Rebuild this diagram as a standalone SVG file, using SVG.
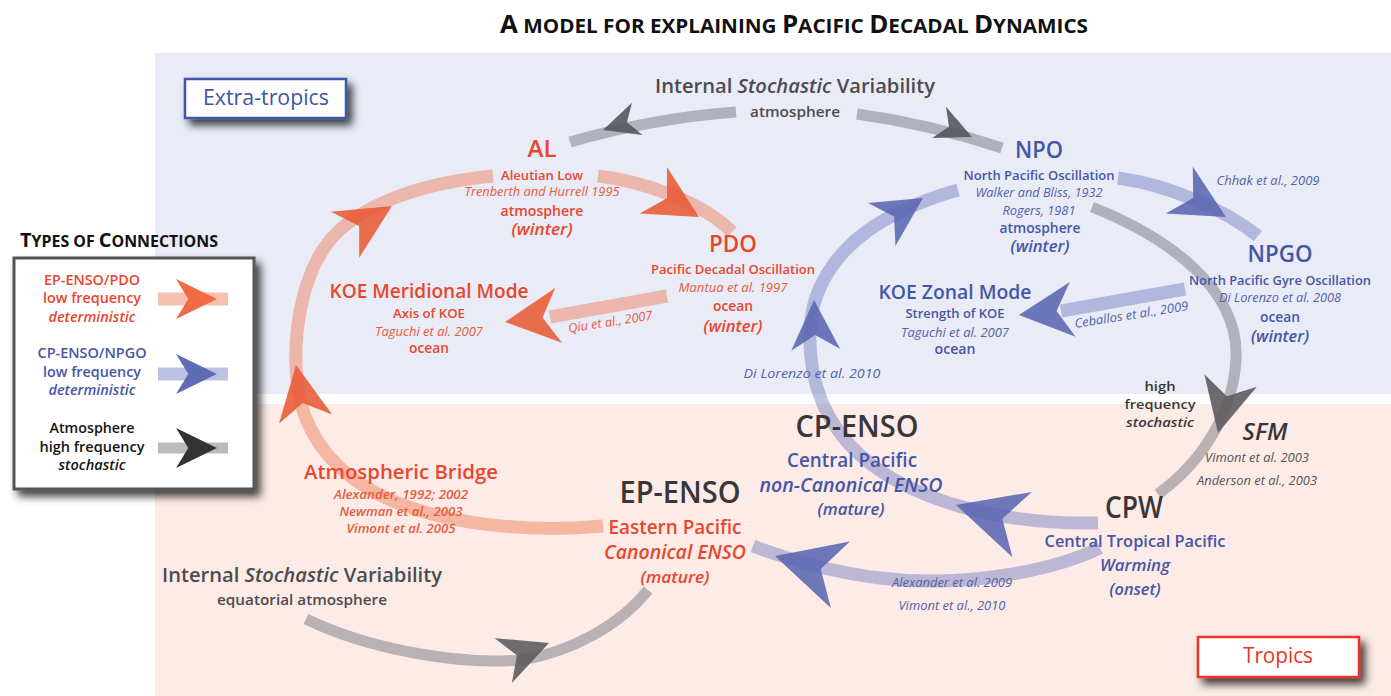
<svg xmlns="http://www.w3.org/2000/svg" xmlns:xlink="http://www.w3.org/1999/xlink" width="1391" height="696" viewBox="0 0 1391 696">
<defs>
<style>
text{font-family:"Open Sans","Liberation Sans",sans-serif;text-anchor:middle}
.b{font-weight:600}
.i{font-style:italic}
.red{fill:#e8472e}.blue{fill:#4656a6}.dk{fill:#3a3637}.gr{fill:#4b4b50}.blk{fill:#141414}
.cr{fill:#e85a3c}.cb{fill:#5261ab}.cg{fill:#555558}
.s24{font-size:24px}.s31{font-size:31px}.s20{font-size:20px}.s19{font-size:19px}.s17{font-size:17px}.s15{font-size:14.5px}.s14{font-size:13px}.s13{font-size:12.5px}
.bandR{fill:none;stroke:#ee7550;stroke-opacity:.45;stroke-width:13}
.bandB{fill:none;stroke:#6e78be;stroke-opacity:.45;stroke-width:13}
.bandG{fill:none;stroke:#82828a;stroke-opacity:.55;stroke-width:11}
.hR{fill:#e85a36;fill-opacity:.88}.hB{fill:#5a66b2;fill-opacity:.88}.hG{fill:#55575e;fill-opacity:.9}.hG2{fill:#5f5c5f;fill-opacity:.9}
.lR{fill:#f06a45}.lB{fill:#5e6bb5}.lK{fill:#333}
</style>
<path id="hd" d="M0,0 L-1,-0.5 L-0.7,0 L-1,0.5 Z"/>
<filter id="sh" x="-20%" y="-20%" width="150%" height="160%">
<feDropShadow dx="5" dy="6" stdDeviation="4" flood-color="#000" flood-opacity="0.75"/>
</filter>
</defs>

<rect x="0" y="0" width="1391" height="696" fill="#ffffff"/>
<rect id="panel-extratropics" x="155" y="53" width="1236" height="341" fill="#e9ebf6"/>
<rect id="panel-tropics" x="155" y="404" width="1236" height="292" fill="#fcebe6"/>

<text x="794" y="33" textLength="588" lengthAdjust="spacingAndGlyphs" font-weight="700" font-size="20" fill="#111"><tspan font-size="25">A</tspan> MODEL FOR EXPLAINING <tspan font-size="25">P</tspan>ACIFIC <tspan font-size="25">D</tspan>ECADAL <tspan font-size="25">D</tspan>YNAMICS</text>

<g id="label-extratropics">
<rect x="185" y="79" width="161" height="39" fill="#fff" stroke="#3f56a6" stroke-width="2.5" filter="url(#sh)"/>
<text x="266" y="105" font-size="21" fill="#3d55a5" textLength="126" lengthAdjust="spacingAndGlyphs">Extra-tropics</text>
</g>
<g id="label-tropics">
<rect x="1198" y="637" width="161" height="40" fill="#fff" stroke="#e8352a" stroke-width="2.5" filter="url(#sh)"/>
<text x="1278" y="663" font-size="22" fill="#e8352a" textLength="70" lengthAdjust="spacingAndGlyphs">Tropics</text>
</g>

<g id="legend">
<text x="119" y="247" textLength="198" lengthAdjust="spacingAndGlyphs" font-weight="700" font-size="16" fill="#111"><tspan font-size="20">T</tspan>YPES OF <tspan font-size="20">C</tspan>ONNECTIONS</text>
<rect x="14" y="258" width="240" height="231" fill="#fff" stroke="#555" stroke-width="3" filter="url(#sh)"/>
<text x="92" y="285" class="b s15 red" textLength="96" lengthAdjust="spacingAndGlyphs">EP-ENSO/PDO</text>
<text x="92" y="303" class="b s15 red" textLength="98" lengthAdjust="spacingAndGlyphs">low frequency</text>
<text x="92" y="322" class="b i s15 red" textLength="87" lengthAdjust="spacingAndGlyphs">deterministic</text>
<text x="92" y="358" class="b s15 blue" textLength="109" lengthAdjust="spacingAndGlyphs">CP-ENSO/NPGO</text>
<text x="92" y="377" class="b s15 blue" textLength="98" lengthAdjust="spacingAndGlyphs">low frequency</text>
<text x="92" y="395" class="b i s15 blue" textLength="87" lengthAdjust="spacingAndGlyphs">deterministic</text>
<text x="92" y="433" class="b s15 blk" textLength="85" lengthAdjust="spacingAndGlyphs">Atmosphere</text>
<text x="92" y="452" class="b s15 blk" textLength="105" lengthAdjust="spacingAndGlyphs">high frequency</text>
<text x="92" y="470" class="b i s15 blk" textLength="67" lengthAdjust="spacingAndGlyphs">stochastic</text>
<line x1="158" y1="299" x2="228" y2="299" class="bandR" stroke-width="10"/>
<use xlink:href="#hd" class="lR" transform="translate(217,299) scale(41,40)"/>
<line x1="158" y1="374" x2="228" y2="374" class="bandB" stroke-width="10"/>
<use xlink:href="#hd" class="lB" transform="translate(217,374) scale(41,40)"/>
<line x1="158" y1="448" x2="228" y2="448" class="bandG" stroke-width="10"/>
<use xlink:href="#hd" class="lK" transform="translate(217,448) scale(41,40)"/>
</g>

<g id="connectors">
<path class="bandR" d="M603,526 C530,533 440,525 380,495 C335,472 310,440 300,400 C290,350 298,280 330,240 C360,205 420,183 493,176"/>
<path class="bandR" d="M598,176 C640,181 700,200 732,232"/>
<path class="bandR" d="M667,296 L550,317"/>
<use xlink:href="#hd" class="hR" transform="translate(296,365) rotate(-100) scale(55,54)"/>
<use xlink:href="#hd" class="hR" transform="translate(392,206) rotate(-31.5) scale(55,54)"/>
<use xlink:href="#hd" class="hR" transform="translate(699,217) rotate(30.4) scale(53,54)"/>
<use xlink:href="#hd" class="hR" transform="translate(505,322) rotate(173) scale(54,55)"/>
<path class="bandB" d="M1098,523 C1000,525 910,500 860,455 C825,423 808,380 810,330 C812,285 840,240 900,212 C920,202 940,195 958,190"/>
<path class="bandB" d="M1118,178 C1170,185 1225,210 1258,236"/>
<path class="bandB" d="M1185,289 L1061,311"/>
<path class="bandB" d="M1100,548 C1050,572 960,588 880,578 C830,572 790,560 753,546"/>
<use xlink:href="#hd" class="hB" transform="translate(814,300) rotate(-92) scale(50,49)"/>
<use xlink:href="#hd" class="hB" transform="translate(923,198) rotate(-32.6) scale(49,51)"/>
<use xlink:href="#hd" class="hB" transform="translate(1226,217) rotate(30) scale(54,54)"/>
<use xlink:href="#hd" class="hB" transform="translate(1019,315) rotate(174) scale(54,55)"/>
<use xlink:href="#hd" class="hB" transform="translate(956,505) rotate(196.5) scale(69,68)"/>
<use xlink:href="#hd" class="hB" transform="translate(775,556) rotate(196) scale(68,69)"/>
<path class="bandG" d="M570,142 Q653.6,118 736,112"/>
<path class="bandG" d="M857,114 Q930,124 1002,148"/>
<path class="bandG" d="M1092,207 C1170,238 1240,290 1236,360 C1233,410 1205,460 1158,494"/>
<path class="bandG" d="M306,619 C370,650 460,665 520,660 C570,653 620,625 648,590"/>
<use xlink:href="#hd" class="hG" transform="translate(603,130) rotate(162) scale(36,34)"/>
<use xlink:href="#hd" class="hG" transform="translate(972,137) rotate(24) scale(36,34)"/>
<use xlink:href="#hd" class="hG2" transform="translate(1218,433) rotate(103.5) scale(54,54)"/>
<use xlink:href="#hd" class="hG2" transform="translate(549,643) rotate(-21) scale(49,48)"/>
<text x="611" y="326" class="i s13 cr" transform="rotate(-9 611 326)" textLength="85" lengthAdjust="spacingAndGlyphs">Qiu et al., 2007</text>
<text x="1132" y="319" class="i s13 cb" transform="rotate(-9 1132 319)" textLength="115" lengthAdjust="spacingAndGlyphs">Ceballos et al., 2009</text>
<text x="1268" y="185" class="i s13 cb" textLength="103" lengthAdjust="spacingAndGlyphs">Chhak et al., 2009</text>
<text x="812" y="378" class="i s14 cb" textLength="137" lengthAdjust="spacingAndGlyphs">Di Lorenzo et al. 2010</text>
<text x="952" y="587" class="i s13 cb" textLength="120" lengthAdjust="spacingAndGlyphs">Alexander et al. 2009</text>
<text x="952" y="610" class="i s13 cb" textLength="107" lengthAdjust="spacingAndGlyphs">Vimont et al., 2010</text>
<text x="1160" y="391" class="b s14 dk" textLength="31" lengthAdjust="spacingAndGlyphs">high</text>
<text x="1160" y="409" class="b s14 dk" textLength="71" lengthAdjust="spacingAndGlyphs">frequency</text>
<text x="1160" y="427" class="b i s14 dk" textLength="68" lengthAdjust="spacingAndGlyphs">stochastic</text>
<text x="1257" y="462" class="i s13 cg" textLength="104" lengthAdjust="spacingAndGlyphs">Vimont et al. 2003</text>
<text x="1257" y="485" class="i s13 cg" textLength="120" lengthAdjust="spacingAndGlyphs">Anderson et al., 2003</text>
</g>

<g id="node-internal-atm">
<text x="795" y="93" class="b s20 gr" textLength="280" lengthAdjust="spacingAndGlyphs">Internal <tspan font-style="italic">Stochastic</tspan> Variability</text>
<text x="795" y="117" class="b s15 gr" textLength="90" lengthAdjust="spacingAndGlyphs">atmosphere</text>
</g>

<g id="node-al">
<text x="542" y="157" class="b s24 red" textLength="29" lengthAdjust="spacingAndGlyphs">AL</text>
<text x="542" y="180" class="b s14 red" textLength="82" lengthAdjust="spacingAndGlyphs">Aleutian Low</text>
<text x="542" y="196" class="i s14 cr" textLength="155" lengthAdjust="spacingAndGlyphs">Trenberth and Hurrell 1995</text>
<text x="542" y="216" class="b s15 red" textLength="83" lengthAdjust="spacingAndGlyphs">atmosphere</text>
<text x="542" y="235" class="b i s17 red" textLength="61" lengthAdjust="spacingAndGlyphs">(winter)</text>
</g>

<g id="node-pdo">
<text x="733" y="252" class="b s24 red" textLength="48" lengthAdjust="spacingAndGlyphs">PDO</text>
<text x="733" y="274" class="b s14 red" textLength="164" lengthAdjust="spacingAndGlyphs">Pacific Decadal Oscillation</text>
<text x="733" y="292" class="i s14 cr" textLength="109" lengthAdjust="spacingAndGlyphs">Mantua et al. 1997</text>
<text x="733" y="311" class="b s15 red" textLength="40" lengthAdjust="spacingAndGlyphs">ocean</text>
<text x="733" y="332" class="b i s17 red" textLength="59" lengthAdjust="spacingAndGlyphs">(winter)</text>
</g>

<g id="node-koe-meridional">
<text x="429" y="298" class="b s20 red" textLength="199" lengthAdjust="spacingAndGlyphs">KOE Meridional Mode</text>
<text x="429" y="318" class="b s14 red" textLength="72" lengthAdjust="spacingAndGlyphs">Axis of KOE</text>
<text x="429" y="336" class="i s14 cr" textLength="108" lengthAdjust="spacingAndGlyphs">Taguchi et al. 2007</text>
<text x="429" y="353" class="b s15 red" textLength="40" lengthAdjust="spacingAndGlyphs">ocean</text>
</g>

<g id="node-npo">
<text x="1039" y="158" class="b s24 blue" textLength="48" lengthAdjust="spacingAndGlyphs">NPO</text>
<text x="1039" y="180" class="b s14 blue" textLength="151" lengthAdjust="spacingAndGlyphs">North Pacific Oscillation</text>
<text x="1039" y="197" class="i s14 cb" textLength="127" lengthAdjust="spacingAndGlyphs">Walker and Bliss, 1932</text>
<text x="1039" y="215" class="i s14 cb" textLength="73" lengthAdjust="spacingAndGlyphs">Rogers, 1981</text>
<text x="1040" y="233" class="b s15 blue" textLength="81" lengthAdjust="spacingAndGlyphs">atmosphere</text>
<text x="1040" y="252" class="b i s17 blue" textLength="59" lengthAdjust="spacingAndGlyphs">(winter)</text>
</g>

<g id="node-npgo">
<text x="1280" y="262" class="b s24 blue" textLength="65" lengthAdjust="spacingAndGlyphs">NPGO</text>
<text x="1280" y="285" class="b s14 blue" textLength="182" lengthAdjust="spacingAndGlyphs">North Pacific Gyre Oscillation</text>
<text x="1280" y="302" class="i s14 cb" textLength="122" lengthAdjust="spacingAndGlyphs">Di Lorenzo et al. 2008</text>
<text x="1280" y="322" class="b s15 blue" textLength="40" lengthAdjust="spacingAndGlyphs">ocean</text>
<text x="1280" y="342" class="b i s17 blue" textLength="58" lengthAdjust="spacingAndGlyphs">(winter)</text>
</g>

<g id="node-koe-zonal">
<text x="955" y="299" class="b s20 blue" textLength="153" lengthAdjust="spacingAndGlyphs">KOE Zonal Mode</text>
<text x="955" y="318" class="b s14 blue" textLength="99" lengthAdjust="spacingAndGlyphs">Strength of KOE</text>
<text x="955" y="337" class="i s14 cb" textLength="108" lengthAdjust="spacingAndGlyphs">Taguchi et al. 2007</text>
<text x="955" y="354" class="b s15 blue" textLength="41" lengthAdjust="spacingAndGlyphs">ocean</text>
</g>

<g id="node-cp-enso">
<text x="857" y="437" class="b s31 dk" textLength="123" lengthAdjust="spacingAndGlyphs">CP-ENSO</text>
<text x="852" y="467" class="b s19 blue" textLength="130" lengthAdjust="spacingAndGlyphs">Central Pacific</text>
<text x="851" y="492" class="b i s19 blue" textLength="183" lengthAdjust="spacingAndGlyphs">non-Canonical ENSO</text>
<text x="851" y="515" class="b i s17 blue" textLength="67" lengthAdjust="spacingAndGlyphs">(mature)</text>
</g>

<g id="node-ep-enso">
<text x="680" y="503" class="b s31 dk" textLength="121" lengthAdjust="spacingAndGlyphs">EP-ENSO</text>
<text x="675" y="534" class="b s19 red" textLength="133" lengthAdjust="spacingAndGlyphs">Eastern Pacific</text>
<text x="675" y="559" class="b i s19 red" textLength="142" lengthAdjust="spacingAndGlyphs">Canonical ENSO</text>
<text x="675" y="583" class="b i s17 red" textLength="69" lengthAdjust="spacingAndGlyphs">(mature)</text>
</g>

<g id="node-cpw">
<text x="1134" y="518" class="b s31 dk" textLength="58" lengthAdjust="spacingAndGlyphs">CPW</text>
<text x="1135" y="547" class="b s17 blue" textLength="181" lengthAdjust="spacingAndGlyphs">Central Tropical Pacific</text>
<text x="1135" y="571" class="b i s17 blue" textLength="70" lengthAdjust="spacingAndGlyphs">Warming</text>
<text x="1135" y="595" class="b i s17 blue" textLength="51" lengthAdjust="spacingAndGlyphs">(onset)</text>
</g>

<g id="node-sfm">
<text x="1265" y="440" class="b i s24 dk" textLength="45" lengthAdjust="spacingAndGlyphs">SFM</text>
</g>

<g id="node-atm-bridge">
<text x="401" y="479" class="b s20 red" textLength="194" lengthAdjust="spacingAndGlyphs">Atmospheric Bridge</text>
<text x="401" y="499" class="b i s13 cr" textLength="134" lengthAdjust="spacingAndGlyphs">Alexander, 1992; 2002</text>
<text x="401" y="516" class="b i s13 cr" textLength="123" lengthAdjust="spacingAndGlyphs">Newman et al., 2003</text>
<text x="401" y="533" class="b i s13 cr" textLength="109" lengthAdjust="spacingAndGlyphs">Vimont et al. 2005</text>
</g>

<g id="node-internal-eq">
<text x="302" y="582" class="b s20 gr" textLength="280" lengthAdjust="spacingAndGlyphs">Internal <tspan font-style="italic">Stochastic</tspan> Variability</text>
<text x="302" y="605" class="b s15 gr" textLength="170" lengthAdjust="spacingAndGlyphs">equatorial atmosphere</text>
</g>
</svg>
